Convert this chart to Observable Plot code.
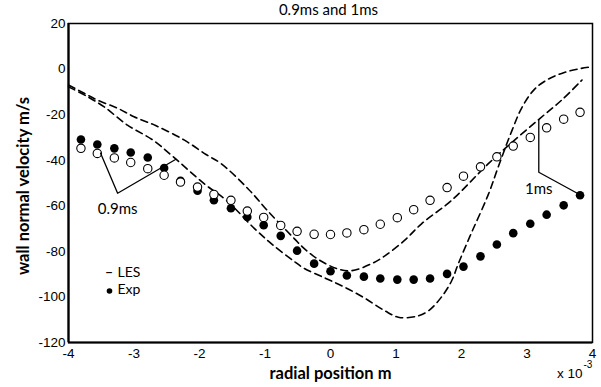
<!DOCTYPE html>
<html><head><meta charset="utf-8">
<script src="https://cdn.jsdelivr.net/npm/d3@7"></script>
<script src="https://cdn.jsdelivr.net/npm/@observablehq/plot@0.6"></script>
<style>body{margin:0;background:#fff}</style>
</head><body><div id="chart"></div>
<script>
// Experimental radial positions (x 10^-3 m)
const xExp = [-3.81,-3.56,-3.30,-3.05,-2.79,-2.54,-2.29,-2.03,-1.78,-1.52,-1.27,-1.02,-0.76,-0.51,-0.25,0.00,0.25,0.51,0.76,1.02,1.27,1.52,1.78,2.03,2.29,2.54,2.79,3.05,3.30,3.56,3.81];
// Exp, 1ms (filled)
const exp1ms = [-30.9,-33.1,-34.8,-36.6,-38.8,-43.4,-49.0,-53.4,-57.6,-61.1,-64.9,-68.5,-73.2,-79.7,-85.4,-88.7,-90.6,-91.1,-91.9,-92.4,-92.4,-91.9,-89.9,-86.7,-82.2,-77.0,-72.0,-67.9,-63.9,-59.8,-55.4];
// Exp, 0.9ms (open)
const exp09ms = [-34.8,-37.0,-39.0,-41.0,-43.7,-46.6,-49.6,-51.8,-55.0,-57.6,-62.3,-65.1,-68.6,-71.2,-72.5,-72.6,-71.9,-70.5,-68.1,-65.2,-61.7,-57.6,-52.0,-47.0,-42.9,-38.5,-33.8,-30.0,-25.8,-22.0,-19.0];
// LES 0.9ms
const lesX09 = [-4.0,-3.71,-3.46,-3.10,-2.72,-2.40,-1.93,-1.59,-1.16,-0.90,-0.55,-0.40,-0.10,0.20,0.52,0.83,1.05,1.34,1.50,1.69,1.85,1.95,2.15,2.41,2.56,2.77,2.92,3.11,3.32,3.57,3.83,4.0];
const les09 = [-7.8,-12.1,-16.5,-24.6,-31.0,-38.5,-50.3,-57.6,-70.0,-76.7,-84.5,-87.5,-91.5,-95.5,-100.5,-106.1,-109.0,-108.3,-106.0,-100.2,-92.9,-85.5,-72.0,-55.0,-43.0,-27.0,-17.0,-9.0,-4.5,-1.5,0.3,1.0];
// LES 1ms
const lesX1 = [-4.0,-3.76,-3.56,-3.25,-3.00,-2.67,-2.23,-1.90,-1.67,-1.26,-0.95,-0.55,-0.40,-0.19,0.11,0.32,0.62,0.83,1.13,1.39,1.85,2.41,2.81,3.20,3.53,3.84];
const les1 = [-7.0,-10.6,-13.6,-17.2,-20.9,-24.8,-31.2,-37.5,-41.5,-52.5,-62.5,-74.5,-78.8,-83.5,-87.7,-88.5,-85.5,-82.0,-75.2,-67.9,-57.6,-41.5,-31.2,-21.6,-13.6,-4.8];
// Annotation callouts
const ann09X = [-3.51,-3.25,-2.36];
const ann09Y = [-36.9,-54.5,-39.6];
const ann1X = [3.18,3.18,3.83];
const ann1Y = [-22.4,-45.3,-55.5];
const annText = ["0.9ms","1ms"];
const annTextX = [-3.25,3.18];
const annTextY = [-61.6,-52.6];
const xTicks = [-4,-3,-2,-1,0,1,2,3,4];
const yTicks = [-120,-100,-80,-60,-40,-20,0,20];
const title = "0.9ms and 1ms";
const xLabel = "radial position m";
const yLabel = "wall normal velocity m/s";
const legendLabels = ["LES","Exp"];

const calibri = "Lato, 'Liberation Sans', sans-serif";
const chart = Plot.plot({
  width: 601, height: 387,
  marginLeft: 68, marginRight: 9, marginTop: 23, marginBottom: 45,
  x: {domain: [-4, 4]},
  y: {domain: [-120, 20]},
  style: {fontFamily: "'Liberation Sans', Arial, sans-serif", background: "#fff", color: "black"},
  marks: [
    Plot.axisX({ticks: xTicks, tickSize: 0, tickPadding: 6, tickFormat: d => String(d), fontSize: 13.5, label: null}),
    Plot.axisY({ticks: yTicks, tickSize: 0, tickPadding: 3, tickFormat: d => String(d), fontSize: 13.5, label: null}),
    Plot.line(les09, {x: lesX09, y: les09, curve: "catmull-rom", stroke: "black", strokeWidth: 1.6, strokeDasharray: "7,4.5"}),
    Plot.line(les1, {x: lesX1, y: les1, curve: "catmull-rom", stroke: "black", strokeWidth: 1.6, strokeDasharray: "7,4.5"}),
    Plot.dot(exp1ms, {x: xExp, y: exp1ms, r: 4.3, fill: "black", stroke: "none"}),
    Plot.dot(exp09ms, {x: xExp, y: exp09ms, r: 4.2, fill: "white", stroke: "black", strokeWidth: 1.1}),
    Plot.line(ann09Y, {x: ann09X, y: ann09Y, stroke: "black", strokeWidth: 1.3}),
    Plot.line(ann1Y, {x: ann1X, y: ann1Y, stroke: "black", strokeWidth: 1.3}),
    Plot.text(annText, {x: annTextX, y: annTextY, text: d => d, fontSize: 15, fontFamily: calibri}),
    Plot.frame({stroke: "black", strokeWidth: 1.5}),
    Plot.ruleX([-4], {stroke: "black", strokeWidth: 2.2}),
    Plot.ruleY([-120], {stroke: "black", strokeWidth: 2.2}),
    Plot.text([title], {text: d => d, frameAnchor: "top", lineAnchor: "middle", textAnchor: "middle", dx: -2, dy: -13, fontSize: 15, fontFamily: calibri}),
    Plot.text([xLabel], {text: d => d, frameAnchor: "bottom", lineAnchor: "middle", textAnchor: "middle", dy: 31, fontSize: 16.5, fontWeight: "bold", fontFamily: calibri}),
    Plot.text([yLabel], {text: d => d, frameAnchor: "left", lineAnchor: "middle", textAnchor: "middle", rotate: -90, dx: -45, dy: 3, fontSize: 16.5, fontWeight: "bold", fontFamily: calibri}),
    Plot.text(["x 10"], {text: d => d, frameAnchor: "bottom-right", lineAnchor: "middle", textAnchor: "end", dx: -10, dy: 31, fontSize: 13.5}),
    Plot.text(["-3"], {text: d => d, frameAnchor: "bottom-right", lineAnchor: "middle", textAnchor: "start", dx: -9, dy: 22, fontSize: 10}),
    Plot.text(["–"], {text: d => d, frameAnchor: "top-left", lineAnchor: "middle", textAnchor: "middle", dx: 40.5, dy: 248.7, fontSize: 14, fontWeight: "bold", fontFamily: calibri}),
    Plot.text([legendLabels[0]], {text: d => d, frameAnchor: "top-left", lineAnchor: "middle", textAnchor: "start", dx: 49, dy: 248.7, fontSize: 14, fontFamily: calibri}),
    Plot.dot([0], {frameAnchor: "top-left", dx: 41, dy: 267.5, r: 2.8, fill: "black", stroke: "none"}),
    Plot.text([legendLabels[1]], {text: d => d, frameAnchor: "top-left", lineAnchor: "middle", textAnchor: "start", dx: 49, dy: 266.5, fontSize: 14, fontFamily: calibri})
  ]
});
document.getElementById("chart").append(chart);
</script>
</body></html>
